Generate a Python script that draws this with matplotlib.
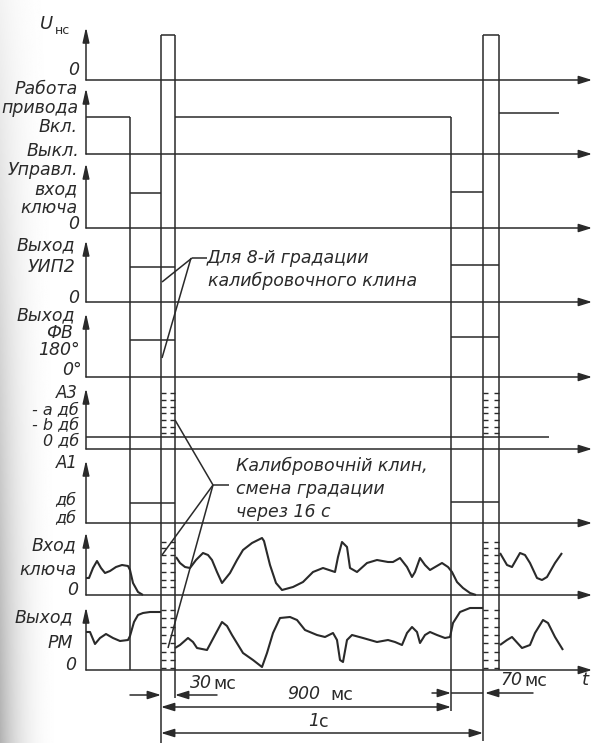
import numpy as np
import matplotlib
matplotlib.use("Agg")
import matplotlib.pyplot as plt

W, H = 593, 743
INK = "#2a2a2a"
LW = 1.1

# time marks along the t axis (px)
t_axis = 86
t_drive_off = 130
t_cal1 = (161, 175)
t_900 = 451
t_cal2 = (483, 499)
t_drive_end = 559
t_end = 592

# channel baselines and tops of the vertical arrows
base = [80, 154, 228, 302, 377, 449, 523, 595, 670]
tops = [27, 88, 163, 240, 313, 388, 460, 532, 607]
pulse_top = 35

# step levels (left window, right window)
drive_on = (117, 113)
ctrl_lvl = (193, 192)
uip_lvl = (267, 265)
fv_lvl = (340, 337)
a3_line = 437
a1_lvl = (503, 502)

# "Вход ключа" curve
key_l_x = [86, 89, 93, 97, 101, 105, 110, 116, 122, 128, 130, 133, 138, 143]
key_l_y = [578, 578, 568, 561, 568, 573, 571, 567, 565, 566, 570, 583, 592, 595]
key_m_x = [176, 180, 185, 190, 196, 203, 208, 212, 217, 222, 230, 237, 243, 252, 262, 264,
           270, 276, 282, 293, 303, 313, 323, 335, 338, 342, 347, 350, 357, 367, 377, 388,
           393, 400, 407, 412, 415, 420, 425, 430, 442, 448, 452, 457, 463, 470, 476]
key_m_y = [557, 563, 567, 568, 560, 553, 555, 560, 572, 583, 573, 560, 550, 543, 538, 541,
           565, 583, 590, 587, 582, 572, 568, 572, 557, 542, 547, 568, 572, 563, 560, 562,
           562, 558, 567, 577, 572, 558, 565, 570, 563, 567, 572, 582, 588, 593, 595]
key_r_x = [500, 507, 512, 520, 525, 530, 537, 542, 547, 555, 562]
key_r_y = [553, 565, 567, 553, 555, 563, 578, 580, 577, 563, 553]

# "Выход РМ" curve
rm_l_x = [86, 90, 95, 100, 106, 113, 120, 128, 130, 134, 138, 143, 150, 161]
rm_l_y = [632, 632, 644, 638, 634, 638, 641, 640, 636, 622, 615, 613, 612, 612]
rm_m_x = [175, 180, 188, 193, 197, 207, 215, 222, 227, 232, 243, 253, 262, 267, 273, 280,
          290, 297, 305, 317, 325, 333, 337, 340, 343, 347, 352, 363, 377, 388, 395, 402,
          407, 412, 417, 420, 425, 430, 437, 445, 450, 453, 460, 470, 483]
rm_m_y = [648, 645, 638, 642, 648, 650, 635, 622, 626, 635, 653, 660, 667, 653, 633, 618,
          617, 620, 630, 635, 637, 633, 640, 660, 662, 640, 635, 638, 642, 640, 642, 645,
          633, 627, 632, 643, 635, 632, 635, 638, 637, 623, 612, 608, 608]
rm_r_x = [500, 507, 512, 522, 530, 535, 543, 548, 555, 563]
rm_r_y = [645, 640, 637, 648, 645, 633, 620, 623, 637, 650]

# calibration wedge ticks
a3_ticks = [393, 400, 407, 413, 420, 427, 433]
key_ticks = [542, 548, 555, 563, 572, 580, 587]
rm_ticks = [610, 618, 627, 635, 643, 652, 660, 668]

# channel labels: text, right x, centre y, size
labels = [
    ("0", 79, 70, 12.5),
    ("Работа", 78, 89, 12.5), ("привода", 78, 108, 12.5), ("Вкл.", 78, 127, 12.5),
    ("Выкл.", 79, 151, 12.5),
    ("Управл.", 78, 170, 12.5), ("вход", 77, 189, 12.5), ("ключа", 77, 208, 12.5),
    ("0", 79, 224, 12.5),
    ("Выход", 75, 245, 12.5), ("УИП2", 75, 267, 12.5), ("0", 79, 298, 12.5),
    ("Выход", 75, 315, 12.5), ("ФВ", 73, 333, 12.5), ("180°", 80, 350, 12.5),
    ("0°", 82, 370, 12.5),
    ("А3", 78, 393, 12), ("- a дб", 79, 410, 11.5), ("- b дб", 79, 425, 11.5),
    ("0 дб", 79, 441, 11.5),
    ("А1", 78, 463, 12), ("дб", 76, 500, 11.5), ("дб", 76, 518, 11.5),
    ("Вход", 76, 545, 12.5), ("ключа", 76, 570, 12.5), ("0", 78, 590, 12.5),
    ("Выход", 73, 617, 12.5), ("РМ", 73, 643, 12.5), ("0", 76, 665, 12.5),
]

fig = plt.figure(figsize=(W / 100, H / 100), dpi=100)
fig.patch.set_facecolor("white")
ax = fig.add_axes([0, 0, 1, 1])
ax.set_xlim(0, W)
ax.set_ylim(H, 0)
ax.axis("off")

# scanned page shading on the left edge
gx = np.linspace(0, 1, 120)
gy = np.linspace(0, 1, 200)[:, None]
shade = 1 - (1 - gx) ** 3 * (0.05 + 0.25 * gy)
ax.imshow(shade, cmap="gray", vmin=0, vmax=1, extent=(0, 70, H, 0),
          aspect="auto", zorder=0, interpolation="bilinear")


def line(xs, ys, lw=LW, **kw):
    ax.plot(xs, ys, color=INK, lw=lw, solid_capstyle="butt", solid_joinstyle="round", **kw)


def arrow(x0, y0, x1, y1, style="-|>", hl=0.8, hw=0.25):
    ax.annotate("", xy=(x1, y1), xytext=(x0, y0),
                arrowprops=dict(arrowstyle=f"{style},head_length={hl},head_width={hw}",
                                color=INK, lw=LW, shrinkA=0, shrinkB=0, mutation_scale=10))


# axes of every channel
for b, tp in zip(base, tops):
    arrow(t_axis, b, t_end, b)
    arrow(t_axis, b, t_axis, tp, hl=0.9, hw=0.2)

# U_нс pulses and the long vertical event lines
line([t_cal1[0], t_cal1[0]], [H, pulse_top])
line([t_cal1[0], t_cal1[1]], [pulse_top, pulse_top])
line([t_cal1[1], t_cal1[1]], [pulse_top, 698])
line([t_cal2[0], t_cal2[0]], [pulse_top, 741])
line([t_cal2[0], t_cal2[1]], [pulse_top, pulse_top])
line([t_cal2[1], t_cal2[1]], [pulse_top, base[8]])
line([t_drive_off, t_drive_off], [drive_on[0], base[8]])
line([t_900, t_900], [drive_on[0], 711])

# Работа привода
line([t_axis, t_drive_off], [drive_on[0]] * 2)
line([t_cal1[1], t_900], [drive_on[0]] * 2)
line([t_cal2[1], t_drive_end], [drive_on[1]] * 2)

# step levels
line([t_drive_off, t_cal1[0]], [ctrl_lvl[0]] * 2)
line([t_900, t_cal2[0]], [ctrl_lvl[1]] * 2)
for lv in (uip_lvl, fv_lvl, a1_lvl):
    line([t_drive_off, t_cal1[1]], [lv[0]] * 2)
    line([t_900, t_cal2[1]], [lv[1]] * 2)
line([t_axis, 549], [a3_line] * 2)

# calibration wedge ticks
for lo, hi in (t_cal1, t_cal2):
    for ys in (a3_ticks, key_ticks, rm_ticks):
        for y in ys:
            line([lo, lo + 5], [y, y], lw=1.0)
            line([hi - 5, hi], [y, y], lw=1.0)

# signals
for xs, ys in ((key_l_x, key_l_y), (key_m_x, key_m_y), (key_r_x, key_r_y),
               (rm_l_x, rm_l_y), (rm_m_x, rm_m_y), (rm_r_x, rm_r_y)):
    line(xs, ys, lw=1.5)

# leader lines
line([207, 192], [258, 258])
line([192, 162], [258, 282])
line([191, 162], [258, 358])
line([229, 213], [485, 485])
line([213, 175], [485, 420])
line([213, 162], [485, 555])
line([213, 168], [485, 648])

# dimension lines
arrow(130, 695, t_cal1[0], 695)
arrow(217, 695, t_cal1[1], 695)
arrow(t_cal1[0], 707, t_900, 707, style="<|-|>")
arrow(t_cal1[0], 733, t_cal2[0], 733, style="<|-|>")
arrow(432, 693, t_900, 693)
line([t_900, t_cal2[0]], [693, 693])
arrow(533, 693, t_cal2[0] + 2, 693)

# texts
TXT = dict(color=INK, family="DejaVu Sans")
for s, x, y, fs in labels:
    ax.text(x, y, s, ha="right", va="center", fontsize=fs, style="italic", **TXT)
ax.text(53, 24, "U", ha="right", va="center", fontsize=13, style="italic", **TXT)
ax.text(55, 31, "нс", ha="left", va="center", fontsize=9, **TXT)

ax.text(207, 258, "Для 8-й градации", ha="left", va="center", fontsize=12.5, style="italic", **TXT)
ax.text(208, 281, "калибровочного клина", ha="left", va="center", fontsize=12.5, style="italic", **TXT)
ax.text(236, 466, "Калибровочній клин,", ha="left", va="center", fontsize=12.5, style="italic", **TXT)
ax.text(236, 489, "смена градации", ha="left", va="center", fontsize=12.5, style="italic", **TXT)
ax.text(236, 512, "через 16 с", ha="left", va="center", fontsize=12.5, style="italic", **TXT)

ax.text(190, 683, "30", ha="left", va="center", fontsize=12.5, style="italic", **TXT)
ax.text(213, 684, "мс", ha="left", va="center", fontsize=12.5, **TXT)
ax.text(287, 694, "900", ha="left", va="center", fontsize=12.5, style="italic", **TXT)
ax.text(330, 695, "мс", ha="left", va="center", fontsize=12.5, **TXT)
ax.text(308, 721, "1", ha="left", va="center", fontsize=12.5, style="italic", **TXT)
ax.text(319, 722, "с", ha="left", va="center", fontsize=12.5, **TXT)
ax.text(500, 680, "70", ha="left", va="center", fontsize=12.5, style="italic", **TXT)
ax.text(524, 681, "мс", ha="left", va="center", fontsize=12.5, **TXT)
ax.text(585, 680, "t", ha="center", va="center", fontsize=13, style="italic", **TXT)

fig.savefig("out.png", dpi=100, facecolor=fig.get_facecolor())
